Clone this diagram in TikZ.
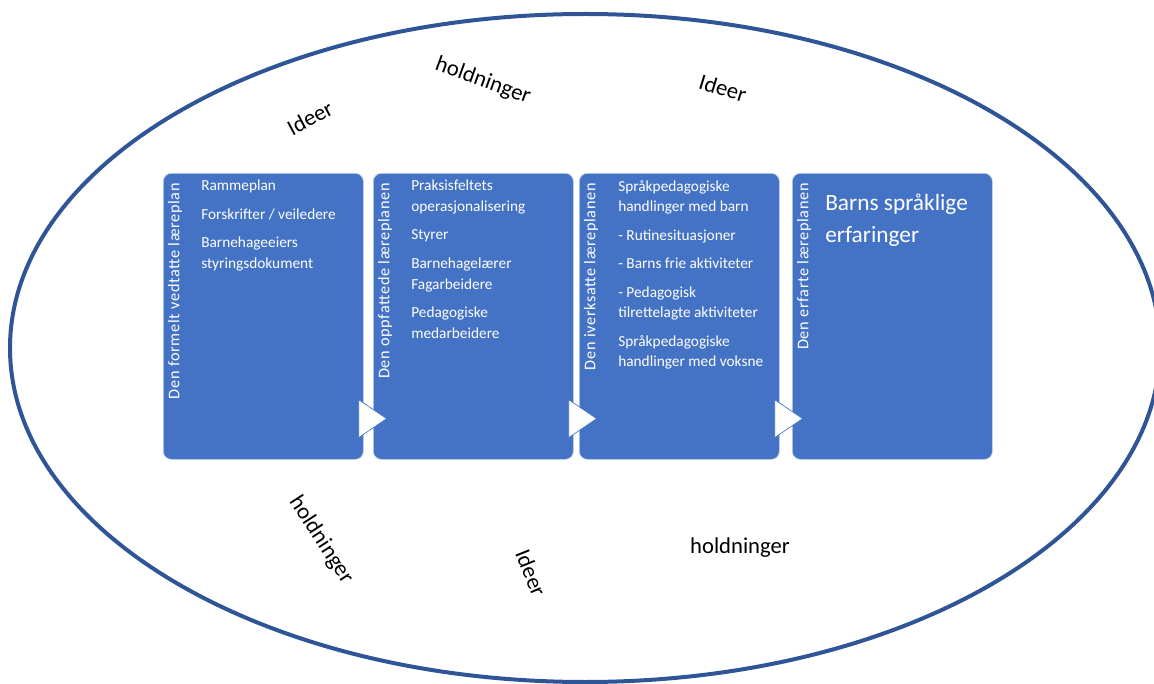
\documentclass[tikz,border=0pt]{standalone}
\usepackage{fontspec}
\setmainfont{Carlito}
\newfontfamily\sidefont[LetterSpace=4]{Carlito}

\definecolor{stageblue}{HTML}{4472C4}
\definecolor{ringblue}{HTML}{2F5597}

\tikzset{
  ring/.style={draw=ringblue, line width=3pt},
  stage/.style={draw=white!65!stageblue, line width=0.5pt, fill=stageblue,
    rounded corners=6pt, minimum width=150pt, minimum height=214.5pt,
    anchor=north west, inner sep=0},
  sidelabel/.style={rotate=90, anchor=east, text=white, inner sep=0,
    font=\sidefont\fontsize{12.2}{14}\selectfont},
  items/.style={anchor=north west, align=left, text=white, inner sep=0,
    font=\fontsize{11.5}{15.4}\selectfont},
  bigitems/.style={items, font=\fontsize{17.5}{24}\selectfont},
  chev/.style={fill=white, draw=stageblue, line width=0.5pt},
  word/.style={inner sep=0, font=\fontsize{17}{20}\selectfont},
}

\begin{document}
\begin{tikzpicture}[x={(0.75pt,0)}, y={(0,-0.75pt)}]
\useasboundingbox (0,0) rectangle (1154,684);
\clip (0,0) rectangle (1154,684);

% the outer ring
\draw[ring] (585,348) ellipse [x radius=431.25pt, y radius=250.5pt];

% loose words in the ring
\node[word, rotate=28] (w1) at (310,118) {Ideer};
\node[word, rotate=-20] (w2) at (483,81) {holdninger};
\node[word, rotate=-17] (w3) at (723,88) {Ideer};
\node[word, rotate=-57] (w4) at (321,540) {holdninger};
\node[word, rotate=-68] (w5) at (531,573) {Ideer};
\node[word] (w6) at (740,548) {holdninger};

% the four stages
\node[stage] (b1) at (163,173) {};
\node[stage] (b2) at (373,173) {};
\node[stage] (b3) at (579,173) {};
\node[stage] (b4) at (792,173) {};

\node[sidelabel] (s1) at ([xshift=9pt,yshift=-7.5pt]b1.north west) {Den formelt vedtatte læreplan};
\node[sidelabel] (s2) at ([xshift=9pt,yshift=-7.5pt]b2.north west) {Den oppfattede læreplanen};
\node[sidelabel] (s3) at ([xshift=9pt,yshift=-7.5pt]b3.north west) {Den iverksatte læreplanen};
\node[sidelabel] (s4) at ([xshift=9pt,yshift=-7.5pt]b4.north west) {Den erfarte læreplanen};

\node[items] (i1) at (201,180) {Rammeplan\\[6pt]Forskrifter / veiledere\\[6pt]Barnehageeiers\\styringsdokument};
\node[items] (i2) at (411,180) {Praksisfeltets\\operasjonalisering\\[6pt]Styrer\\[6pt]Barnehagelærer\\Fagarbeidere\\[6pt]Pedagogiske\\medarbeidere};
\node[items] (i3) at (618,180) {Språkpedagogiske\\handlinger med barn\\[6pt]- Rutinesituasjoner\\[6pt]- Barns frie aktiviteter\\[6pt]- Pedagogisk\\tilrettelagte aktiviteter\\[6pt]Språkpedagogiske\\handlinger med voksne};
\node[bigitems] (i4) at (825,194) {Barns språklige\\erfaringer};

% arrows between the stages
\foreach \bx in {b1,b2,b3}
  \draw[chev] ([xshift=-3.75pt,yshift=16.5pt]\bx.south east) -- ++(0,-38) -- ++(28,19) -- cycle;
\end{tikzpicture}
\end{document}
